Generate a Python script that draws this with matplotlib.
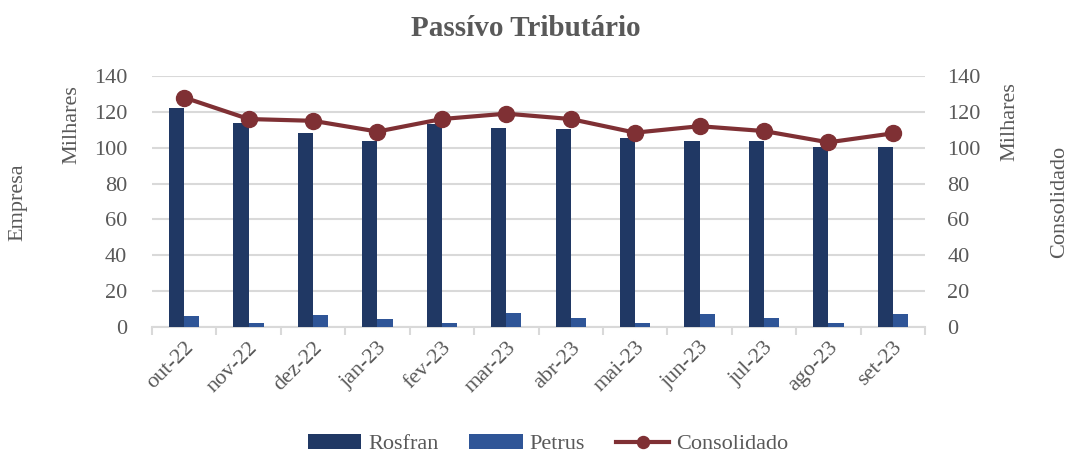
import matplotlib
matplotlib.use("Agg")
import matplotlib.pyplot as plt
from matplotlib.patches import Rectangle
from matplotlib.legend_handler import HandlerPatch
import numpy as np

categories = ["out-22", "nov-22", "dez-22", "jan-23", "fev-23", "mar-23",
              "abr-23", "mai-23", "jun-23", "jul-23", "ago-23", "set-23"]
rosfran = [122, 113.6, 108, 104, 113, 111, 110.4, 105.4, 104, 104, 100.4, 100.4]
petrus = [6, 2.2, 6.7, 4.5, 2.2, 7.8, 5.2, 2.2, 7, 4.8, 2.0, 7]
consolidado = [128, 116, 115, 109, 116, 119, 116, 108.4, 112, 109.3, 103, 108]
yticks = [0, 20, 40, 60, 80, 100, 120, 140]

plt.rcParams['font.family'] = ['Liberation Serif', 'DejaVu Serif']
gray = '#595959'
c_ros = '#203864'
c_pet = '#2F5597'
c_con = '#7F3034'
fs = 16

fig = plt.figure(figsize=(10.7, 4.54), dpi=100)
ax = fig.add_axes([152/1070, 1-327/454, (925-152)/1070, (327-76)/454])
ax2 = ax.twinx()

x = np.arange(len(categories))
w = 0.235
ax.bar(x - w/2, rosfran, w, color=c_ros, label='Rosfran', zorder=3)
ax.bar(x + w/2, petrus, w, color=c_pet, label='Petrus', zorder=3)
ax2.plot(x, consolidado, color=c_con, lw=3, marker='o', ms=11.5, label='Consolidado', zorder=4)

for a in (ax, ax2):
    a.set_ylim(0, 140)
    a.set_yticks(yticks)
    for s in ['top', 'left', 'right', 'bottom']:
        a.spines[s].set_visible(False)
    a.tick_params(axis='y', length=0, labelsize=fs, labelcolor=gray)
ax.tick_params(axis='y', pad=18)
ax2.tick_params(axis='y', pad=16)

ax.set_xlim(-0.5, len(categories) - 0.5)
ax.yaxis.grid(True, color='#D9D9D9', lw=1.5, zorder=0)
ax.set_axisbelow(True)
ax.spines['bottom'].set_visible(True)
ax.spines['bottom'].set_color('#D9D9D9')
ax.spines['bottom'].set_linewidth(1.5)
ax.set_xticks(x)
ax.set_xticklabels(categories, rotation=45, ha='right', rotation_mode='anchor',
                   fontsize=fs, color=gray)
ax.tick_params(axis='x', length=0, pad=8)
ax.set_xticks(np.arange(-0.5, len(categories)), minor=True)
ax.tick_params(axis='x', which='minor', length=6, color='#D9D9D9', width=1.5)

fig.text(526/1070, 1-28/454, 'Passívo Tributário', ha='center', va='center',
         fontsize=21, fontweight='bold', color=gray)
fig.text(18/1070, 1-202/454, 'Empresa', rotation=90, ha='center', va='center',
         fontsize=fs, color=gray)
fig.text(72/1070, 1-125/454, 'Milhares', rotation=90, ha='center', va='center',
         fontsize=fs, color=gray)
fig.text(1010/1070, 1-122/454, 'Milhares', rotation=90, ha='center', va='center',
         fontsize=fs, color=gray)
fig.text(1060/1070, 1-202/454, 'Consolidado', rotation=90, ha='center', va='center',
         fontsize=fs, color=gray)


def thin_rect(legend, orig_handle, xdescent, ydescent, width, height, fontsize):
    h = 0.27 * fontsize
    return Rectangle((-xdescent, -ydescent + (height - h) / 2), width, h)


h1, l1 = ax.get_legend_handles_labels()
h2, l2 = ax2.get_legend_handles_labels()
leg = fig.legend(h1 + h2, l1 + l2, loc='center', bbox_to_anchor=(548/1070, 1-444/454),
                 ncol=3, frameon=False, fontsize=fs, labelcolor=gray,
                 handlelength=2.4, columnspacing=1.4, handletextpad=0.3,
                 markerscale=0.75,
                 handler_map={Rectangle: HandlerPatch(patch_func=thin_rect)})

fig.savefig('out.png', dpi=100)
